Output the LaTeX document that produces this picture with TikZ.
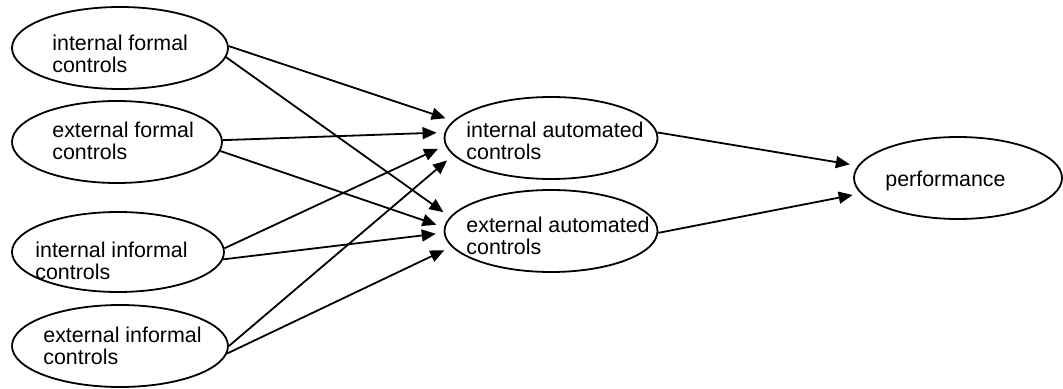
\documentclass[tikz,border=0pt]{standalone}
\usepackage{fontspec}
\setmainfont{Liberation Sans}
\usetikzlibrary{shapes.geometric,arrows.meta}
\begin{document}
\begin{tikzpicture}[x=0.5pt,y=-0.5pt]
      \tikzset{
        oval/.style={ellipse,draw,line width=0.9pt,inner sep=0pt,minimum height=41pt},
        lbl/.style={anchor=north west,inner sep=0pt,align=left,font=\fontsize{10.7}{11}\selectfont},
        arr/.style={line width=0.9pt,-{Triangle[length=7pt,width=6pt]},shorten >=4pt}
      }
      \useasboundingbox (0,0) rectangle (1063,389);

      \node[oval,minimum width=108pt] (ifc) at (120,48) {};
      \node[oval,minimum width=105pt] (efc) at (117,142) {};
      \node[oval,minimum width=106pt,minimum height=40pt] (iic) at (118,252) {};
      \node[oval,minimum width=108pt] (eic) at (120,346) {};
      \node[oval,minimum width=106.5pt] (iac) at (551,138) {};
      \node[oval,minimum width=106.5pt] (eac) at (551,231) {};
      \node[oval,minimum width=104pt] (perf) at (958,178) {};

      \node[lbl] (ifc-t) at (52,35) {internal formal\\controls};
      \node[lbl] (efc-t) at (52,122) {external formal\\controls};
      \node[lbl] (iic-t) at (35,242) {internal informal\\controls};
      \node[lbl] (eic-t) at (43,327) {external informal\\controls};
      \node[lbl] (iac-t) at (466,122) {internal automated\\controls};
      \node[lbl] (eac-t) at (466,217) {external automated\\controls};
      \node[lbl] (perf-t) at (885,171) {performance};

      \draw (ifc.1) edge[arr] (iac.170)
            (ifc.-5) edge[arr] (eac.172)
            (efc.1) edge[arr] (iac.177)
            (efc.-5) edge[arr] (eac.178)
            (iic.2) edge[arr] (iac.184)
            (iic.-4) edge[arr] (eac.181)
            (eic.0) edge[arr] (iac.190)
            (eic.-4) edge[arr] (eac.189)
            (iac.3) edge[arr] (perf.173)
            (eac.-1) edge[arr] (perf.189);
    \end{tikzpicture}
\end{document}
